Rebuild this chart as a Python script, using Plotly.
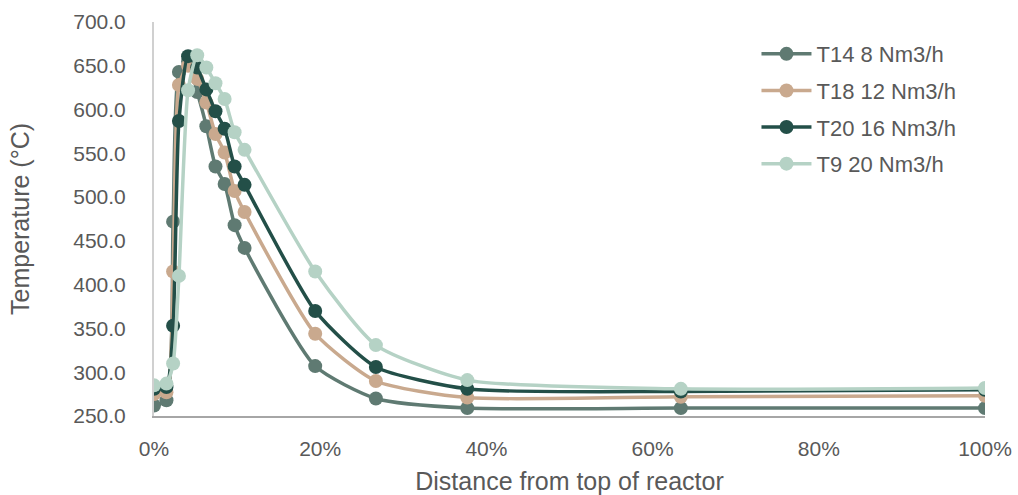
import plotly.graph_objects as go

distance = [0.0, 0.015, 0.023, 0.030, 0.041, 0.052, 0.063, 0.074, 0.085, 0.097, 0.109,
            0.194, 0.267, 0.377, 0.634, 1.0]

t14_8 = [262, 268, 472, 643, 655, 620, 581, 535, 515, 468, 442, 307, 270, 259, 259, 259]
t18_12 = [275, 277, 415, 628, 650, 635, 608, 572, 551, 507, 483, 344, 290, 271, 272, 273]
t20_16 = [281, 283, 353, 587, 661, 648, 623, 598, 578, 535, 514, 370, 306, 281, 278, 280]
t9_20 = [285, 287, 310, 410, 622, 662, 648, 630, 612, 574, 554, 415, 331, 291, 281, 282]

series_names = ["T14 8 Nm3/h", "T18 12 Nm3/h", "T20 16 Nm3/h", "T9 20 Nm3/h"]
series_values = [t14_8, t18_12, t20_16, t9_20]
colors = ["#5f7a72", "#c9a98e", "#234f48", "#b5d2c5"]

y_ticks = [250, 300, 350, 400, 450, 500, 550, 600, 650, 700]
x_ticks = [0, 0.2, 0.4, 0.6, 0.8, 1.0]

fig = go.Figure()
for i, (name, vals, col) in enumerate(zip(series_names, series_values, colors)):
    fig.add_trace(go.Scatter(
        x=distance, y=vals, name=name, mode="lines+markers", legendgroup=f"g{i}",
        line=dict(color=col, width=3.5, shape="spline", smoothing=0.6),
        marker=dict(color=col, size=14),
    ))

font_family = "Liberation Sans, Arial, sans-serif"
fig.update_layout(
    width=1018, height=495,
    margin=dict(l=154, r=33, t=22, b=79),
    paper_bgcolor="white", plot_bgcolor="white",
    font=dict(family=font_family, color="#595959", size=21),
    legend=dict(x=0.725, y=0.972, xanchor="left", yanchor="top",
                font=dict(size=22, color="#595959"),
                bgcolor="rgba(0,0,0,0)", itemwidth=50, tracegroupgap=5),
    showlegend=True,
)
fig.update_xaxes(
    range=[0, 1.0], tickvals=x_ticks, tickformat=".0%",
    showgrid=False, zeroline=False, automargin=False,
    showline=True, linecolor="#a6a6a6", linewidth=2,
    ticks="outside", ticklen=13, tickcolor="white",
    tickfont=dict(size=21, color="#595959"),
    title=dict(text="Distance from top of reactor", font=dict(size=25, color="#595959"), standoff=16),
)
fig.update_yaxes(
    range=[250, 700], tickvals=y_ticks, tickformat=".1f",
    showgrid=False, zeroline=False, automargin=False,
    showline=True, linecolor="#d0d0d0", linewidth=2,
    ticks="outside", ticklen=22, tickcolor="white",
    tickfont=dict(size=21, color="#595959"),
    title=dict(text="Temperature (°C)", font=dict(size=25, color="#595959"), standoff=36),
)

fig.write_html("out.html")
